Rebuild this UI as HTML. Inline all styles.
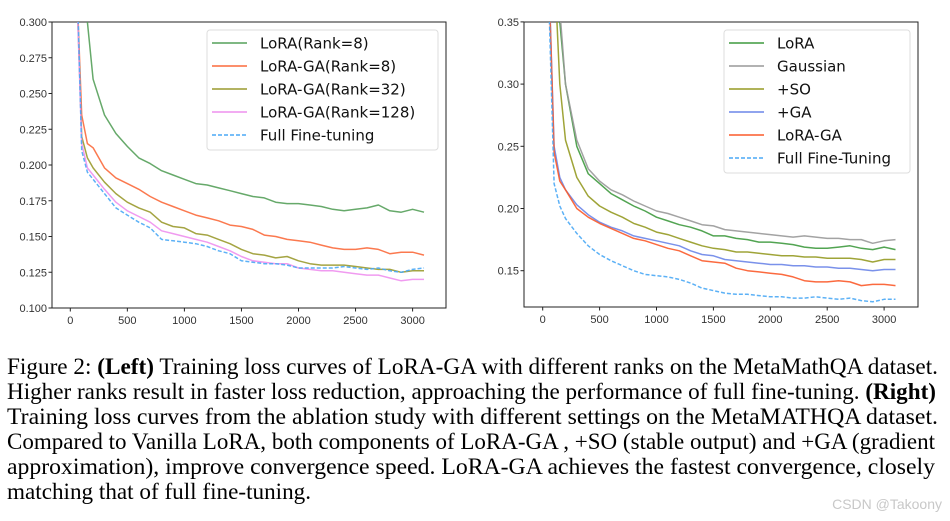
<!DOCTYPE html>
<html><head><meta charset="utf-8"><style>
body{margin:0;background:#fff;width:950px;height:521px;overflow:hidden}
svg{display:block}
.tk{font:11px "Liberation Sans","DejaVu Sans",sans-serif;fill:#333}
.lg{font:15px "DejaVu Sans","Liberation Sans",sans-serif;fill:#111}
.cap{font:23px "Liberation Serif",serif;fill:#000}
</style></head><body>
<svg id="s" width="950" height="521">
<defs>
<clipPath id="cl"><rect x="52" y="22" width="394" height="286"/></clipPath>
<clipPath id="cr"><rect x="524" y="22" width="394" height="285"/></clipPath>
</defs>
<g id="left"></g>
<g id="right"></g>
<g>
<text class="cap" x="7" y="374" textLength="931" lengthAdjust="spacingAndGlyphs">Figure 2: <tspan font-weight="bold">(Left)</tspan> Training loss curves of LoRA-GA with different ranks on the MetaMathQA dataset.</text>
<text class="cap" x="7" y="399" textLength="929" lengthAdjust="spacingAndGlyphs">Higher ranks result in faster loss reduction, approaching the performance of full fine-tuning. <tspan font-weight="bold">(Right)</tspan></text>
<text class="cap" x="7" y="424" textLength="931" lengthAdjust="spacingAndGlyphs">Training loss curves from the ablation study with different settings on the MetaMATHQA dataset.</text>
<text class="cap" x="7" y="449" textLength="928" lengthAdjust="spacingAndGlyphs">Compared to Vanilla LoRA, both components of LoRA-GA , +SO (stable output) and +GA (gradient</text>
<text class="cap" x="7" y="474" textLength="928" lengthAdjust="spacingAndGlyphs">approximation), improve convergence speed. LoRA-GA achieves the fastest convergence, closely</text>
<text class="cap" x="7" y="499" textLength="304" lengthAdjust="spacingAndGlyphs">matching that of full fine-tuning.</text>
</g>
<text x="942" y="509" text-anchor="end" style="font:14px 'Liberation Sans',sans-serif;fill:#c8c8c8">CSDN @Takoony</text>
</svg>
<script>
const NS='http://www.w3.org/2000/svg';
const xTicks=[0,500,1000,1500,2000,2500,3000];
const leftYTicks=[0.100,0.125,0.150,0.175,0.200,0.225,0.250,0.275,0.300];
const rightYTicks=[0.15,0.20,0.25,0.30,0.35];
const stepsA=[50,100,150,200,300,400,500,600,700,800,900,1000,1100,1200,1300,1400,1500,1600,1700,1800,1900,2000,2100,2200,2300,2400,2500,2600,2700,2800,2900,3000,3100];
const stepsG=[150,200,300,400,500,600,700,800,900,1000,1100,1200,1300,1400,1500,1600,1700,1800,1900,2000,2100,2200,2300,2400,2500,2600,2700,2800,2900,3000,3100];
const leftNames=['LoRA(Rank=8)','LoRA-GA(Rank=8)','LoRA-GA(Rank=32)','LoRA-GA(Rank=128)','Full Fine-tuning'];
const L_lora8=[0.30,0.26,0.235,0.222,0.213,0.205,0.201,0.196,0.193,0.190,0.187,0.186,0.184,0.182,0.180,0.178,0.177,0.174,0.173,0.173,0.172,0.171,0.169,0.168,0.169,0.170,0.172,0.168,0.167,0.169,0.167];
const L_ga8=[0.34,0.235,0.215,0.212,0.198,0.191,0.187,0.183,0.178,0.174,0.171,0.168,0.165,0.163,0.161,0.158,0.157,0.155,0.151,0.150,0.148,0.147,0.146,0.144,0.142,0.141,0.141,0.142,0.141,0.138,0.139,0.139,0.137];
const L_ga32=[0.34,0.22,0.205,0.198,0.188,0.180,0.174,0.170,0.167,0.160,0.157,0.156,0.152,0.151,0.148,0.145,0.141,0.138,0.137,0.135,0.136,0.133,0.131,0.130,0.130,0.130,0.129,0.128,0.127,0.127,0.125,0.126,0.126];
const L_ga128=[0.34,0.215,0.198,0.193,0.183,0.174,0.168,0.164,0.160,0.154,0.152,0.150,0.148,0.146,0.143,0.140,0.136,0.133,0.132,0.131,0.131,0.128,0.127,0.126,0.126,0.125,0.124,0.123,0.123,0.121,0.119,0.120,0.120];
const L_full=[0.36,0.21,0.195,0.190,0.180,0.170,0.165,0.160,0.156,0.148,0.147,0.146,0.145,0.143,0.140,0.138,0.133,0.132,0.131,0.131,0.130,0.128,0.128,0.128,0.128,0.129,0.128,0.127,0.128,0.126,0.125,0.127,0.128];
const rightNames=['LoRA','Gaussian','+SO','+GA','LoRA-GA','Full Fine-Tuning'];
const R_lora=[0.35,0.30,0.25,0.228,0.22,0.212,0.207,0.202,0.198,0.193,0.19,0.187,0.185,0.182,0.178,0.178,0.176,0.175,0.173,0.173,0.172,0.171,0.169,0.168,0.168,0.169,0.170,0.168,0.167,0.169,0.167];
const R_gauss=[0.36,0.30,0.255,0.232,0.222,0.215,0.211,0.206,0.202,0.198,0.196,0.193,0.190,0.187,0.186,0.183,0.182,0.181,0.180,0.179,0.178,0.177,0.178,0.177,0.176,0.176,0.175,0.175,0.172,0.174,0.175];
const R_so=[0.45,0.40,0.30,0.255,0.225,0.21,0.202,0.197,0.193,0.188,0.185,0.181,0.179,0.176,0.173,0.170,0.168,0.167,0.165,0.165,0.164,0.163,0.162,0.162,0.161,0.161,0.160,0.160,0.160,0.159,0.157,0.159,0.159];
const R_ga=[0.40,0.25,0.225,0.215,0.203,0.195,0.189,0.185,0.182,0.178,0.176,0.174,0.172,0.170,0.166,0.163,0.162,0.159,0.158,0.157,0.156,0.155,0.155,0.154,0.154,0.153,0.153,0.152,0.152,0.151,0.150,0.151,0.151];
const R_loraga=[0.40,0.245,0.222,0.215,0.200,0.193,0.188,0.184,0.180,0.176,0.174,0.171,0.168,0.166,0.162,0.158,0.157,0.156,0.152,0.150,0.149,0.148,0.147,0.145,0.142,0.141,0.141,0.142,0.141,0.138,0.139,0.139,0.138];
const R_full=[0.38,0.22,0.202,0.192,0.180,0.170,0.163,0.158,0.154,0.150,0.147,0.146,0.145,0.143,0.140,0.136,0.134,0.132,0.131,0.131,0.130,0.129,0.129,0.128,0.128,0.129,0.128,0.127,0.128,0.126,0.125,0.127,0.127];

function mk(tag,attrs,parent){const e=document.createElementNS(NS,tag);for(const k in attrs)e.setAttribute(k,attrs[k]);parent.appendChild(e);return e;}

function chart(g,cfg){
  const X=v=>cfg.x0+v*cfg.xs, Y=v=>cfg.yb+(v-cfg.ymin)*cfg.ys;
  const frame=mk('rect',{x:cfg.bx,y:cfg.by,width:cfg.bw,height:cfg.bh,fill:'none',stroke:'#222','stroke-width':1},g);
  
  
  xTicks.forEach(t=>{
    const x=X(t);
    const l=mk('line',{x1:x,x2:x,y1:cfg.by+cfg.bh,y2:cfg.by+cfg.bh+3.5,stroke:'#222'},g);
    
    
    const tx=mk('text',{x:x,y:cfg.by+cfg.bh+16,'text-anchor':'middle',class:'tk'},g);tx.textContent=t;
    
    
  });
  cfg.yt.forEach(t=>{
    const y=Y(t);
    const l=mk('line',{x1:cfg.bx-3.5,x2:cfg.bx,y1:y,y2:y,stroke:'#222'},g);
    
    
    const tx=mk('text',{x:cfg.bx-5,y:y+4,'text-anchor':'end',class:'tk'},g);tx.textContent=t.toFixed(cfg.dec);
    
    
  });
  const sg=mk('g',{'clip-path':cfg.clip},g);
  cfg.series.forEach((s,i)=>{
    const d=s.xs.map((v,j)=>(j?'L':'M')+X(v).toFixed(1)+','+Y(s.ys[j]).toFixed(1)).join('');
    const p=mk('path',{d:d,fill:'none',stroke:s.c,'stroke-width':1.5,'stroke-opacity':0.9,'stroke-linejoin':'round'},sg);
    if(s.dash)p.setAttribute('stroke-dasharray','4,2');
    
    
  });
  const lg=mk('g',{},g);
  
  
  mk('rect',{x:cfg.lx,y:30,width:cfg.lw,height:cfg.series.length*23+5,rx:3,fill:'#fff','fill-opacity':0.85,stroke:'#ddd'},lg);
  cfg.series.forEach((s,i)=>{
    const y=43+i*23;
    const l=mk('line',{x1:cfg.lx+5,x2:cfg.lx+40,y1:y,y2:y,stroke:s.c,'stroke-width':1.6},lg);
    if(s.dash)l.setAttribute('stroke-dasharray','4,2');
    const t=mk('text',{x:cfg.lx+53,y:y+5.5,class:'lg'},lg);t.textContent=s.n;
    
    
  });
}
chart(document.getElementById('left'),{x0:70.3,xs:0.1141,yb:308,ymin:0.1,ys:-1430,bx:52,by:22,bw:394,bh:286,yt:leftYTicks,dec:3,clip:'url(#cl)',lx:207,lw:231,
 series:[
  {n:leftNames[0],c:'#55a05a',xs:stepsG,ys:L_lora8},
  {n:leftNames[1],c:'#fb6a3c',xs:stepsA,ys:L_ga8},
  {n:leftNames[2],c:'#9a9a2e',xs:stepsA,ys:L_ga32},
  {n:leftNames[3],c:'#ee90ee',xs:stepsA,ys:L_ga128},
  {n:leftNames[4],c:'#4aa8f5',xs:stepsA,ys:L_full,dash:true}]});
chart(document.getElementById('right'),{x0:542.7,xs:0.1138,yb:270.7,ymin:0.15,ys:-1244,bx:524,by:22,bw:394,bh:285,yt:rightYTicks,dec:2,clip:'url(#cr)',lx:724,lw:186,
 series:[
  {n:rightNames[0],c:'#3f9a3f',xs:stepsG,ys:R_lora},
  {n:rightNames[1],c:'#999999',xs:stepsG,ys:R_gauss},
  {n:rightNames[2],c:'#959a22',xs:stepsA,ys:R_so},
  {n:rightNames[3],c:'#6b85e8',xs:stepsA,ys:R_ga},
  {n:rightNames[4],c:'#fb5a2a',xs:stepsA,ys:R_loraga},
  {n:rightNames[5],c:'#4aa8f5',xs:stepsA,ys:R_full,dash:true}]});
</script>
</body></html>
